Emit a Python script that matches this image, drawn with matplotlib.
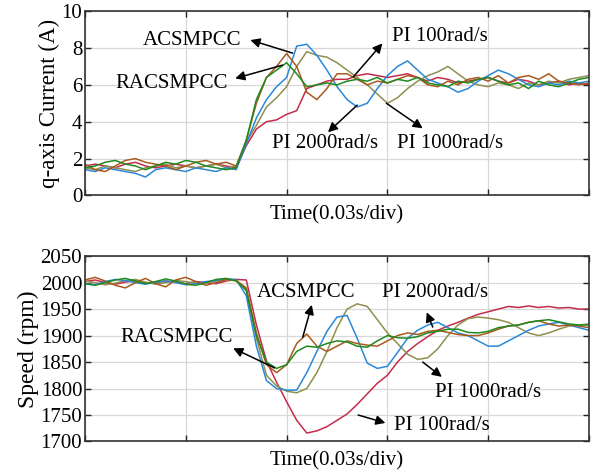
import matplotlib
matplotlib.use('Agg')
import matplotlib.pyplot as plt
import numpy as np

plt.rcParams['font.family'] = ['Liberation Serif', 'DejaVu Serif']

# time axis in divisions (0.03 s/div)
t = np.round(np.arange(0, 5.01, 0.1), 2)

# q-axis current (A)
iq_pi100 = [1.6, 1.7, 1.6, 1.5, 1.7, 1.8, 1.6, 1.5, 1.6, 1.7, 1.6, 1.5, 1.6, 1.7, 1.6, 1.5,
            2.7, 3.6, 4.0, 4.1, 4.4, 4.6, 5.8, 6.0, 6.2, 6.3, 6.3, 6.5, 6.6, 6.5, 6.4,
            6.5, 6.6, 6.4, 6.2, 6.4, 6.3, 6.1, 6.2, 6.3, 6.4, 6.2, 6.1, 6.3, 6.2, 6.0,
            6.1, 6.2, 6.0, 6.1, 6.0]
iq_pi1000 = [1.5, 1.4, 1.6, 1.5, 1.4, 1.3, 1.5, 1.6, 1.7, 1.5, 1.6, 1.5, 1.6, 1.7, 1.5, 1.6,
             2.9, 3.8, 4.8, 5.3, 5.9, 7.0, 7.8, 7.6, 7.5, 7.2, 6.8, 6.4, 6.0, 5.5, 5.0,
             5.3, 5.8, 6.2, 6.5, 6.7, 7.0, 6.6, 6.2, 6.0, 5.9, 6.1, 6.0, 5.8, 6.1, 6.0,
             6.2, 6.1, 6.3, 6.4, 6.5]
iq_pi2000 = [1.4, 1.3, 1.5, 1.4, 1.3, 1.2, 1.0, 1.4, 1.5, 1.4, 1.3, 1.5, 1.4, 1.3, 1.5, 1.4,
             2.8, 4.2, 5.2, 5.9, 6.4, 8.1, 8.2, 7.6, 6.8, 5.9, 5.2, 4.8, 5.0, 5.8, 6.5,
             7.0, 7.3, 6.8, 6.3, 6.1, 5.9, 5.6, 5.8, 6.2, 6.5, 6.8, 6.6, 6.3, 6.0, 5.9,
             6.1, 6.0, 6.2, 6.1, 6.2]
iq_acsmpcc = [1.7, 1.4, 1.3, 1.6, 1.9, 2.0, 1.8, 1.7, 1.6, 1.4, 1.6, 1.8, 1.9, 1.7, 1.8, 1.6,
              3.0, 5.0, 6.4, 7.0, 7.7, 7.0, 5.6, 5.2, 5.8, 6.6, 6.6, 6.3, 6.0, 6.2, 6.1,
              6.3, 6.5, 6.4, 6.0, 5.9, 6.2, 6.0, 6.3, 6.4, 6.2, 6.5, 6.1, 6.4, 6.5, 6.3,
              6.6, 6.2, 6.1, 6.0, 6.1]
iq_racsmpcc = [1.5, 1.6, 1.8, 1.9, 1.7, 1.6, 1.4, 1.6, 1.8, 1.7, 1.9, 1.8, 1.6, 1.5, 1.4, 1.5,
               3.0, 5.2, 6.4, 6.8, 7.2, 6.6, 5.9, 6.0, 6.1, 6.0, 6.2, 6.3, 6.2, 6.4, 6.1,
               6.3, 6.2, 6.4, 6.1, 6.0, 5.9, 6.2, 6.1, 6.3, 6.4, 6.2, 6.0, 6.1, 5.8, 6.2,
               6.0, 5.9, 6.1, 6.3, 6.4]

# speed (rpm)
n_pi100 = [2002, 2005, 2000, 1997, 2001, 2004, 1999, 2000, 2003, 2001, 1998, 2002, 2000, 1998, 2003, 2006,
           2005, 1920, 1852, 1812, 1775, 1740, 1716, 1720, 1728, 1740, 1752, 1770, 1790, 1810, 1825,
           1850, 1870, 1885, 1898, 1910, 1918, 1925, 1933, 1940, 1945, 1950, 1955, 1953, 1956, 1953,
           1955, 1952, 1953, 1950, 1950]
n_pi1000 = [2003, 2000, 1996, 1999, 2004, 2006, 2001, 1997, 2000, 2004, 2002, 1999, 2001, 2003, 2005, 2004,
            1988, 1895, 1825, 1805, 1795, 1792, 1800, 1830, 1870, 1915, 1950, 1960, 1955, 1930, 1905,
            1885, 1865, 1855, 1858, 1875, 1900, 1920, 1932, 1935, 1933, 1930, 1925, 1915, 1905, 1900,
            1905, 1912, 1918, 1920, 1922]
n_pi2000 = [1998, 1996, 2002, 2006, 2004, 2000, 1997, 2001, 2003, 2000, 1996, 1998, 2002, 2004, 2007, 2006,
            1975, 1880, 1815, 1800, 1797, 1797, 1830, 1870, 1908, 1935, 1938, 1895, 1848, 1838, 1842,
            1868, 1895, 1910, 1920, 1925, 1915, 1905, 1900, 1890, 1880, 1880, 1890, 1900, 1910, 1918,
            1922, 1925, 1920, 1915, 1910]
n_acsmpcc = [2005, 2010, 2003, 1995, 1990, 2000, 2008, 1998, 1992, 2005, 2010, 2002, 1995, 2000, 2006, 2004,
             1990, 1905, 1845, 1830, 1845, 1885, 1903, 1880, 1870, 1880, 1890, 1885, 1882, 1880, 1890,
             1900, 1905, 1902, 1908, 1910, 1906, 1902, 1900, 1900, 1905, 1912, 1918, 1920, 1925, 1928,
             1922, 1918, 1920, 1918, 1915]
n_racsmpcc = [1998, 1995, 2000, 2005, 2008, 2003, 1998, 2002, 2007, 2003, 1997, 1995, 2000, 2006, 2008, 2003,
              1985, 1900, 1850, 1838, 1845, 1870, 1880, 1878, 1885, 1890, 1888, 1880, 1878, 1890, 1900,
              1896, 1895, 1898, 1905, 1908, 1912, 1912, 1906, 1905, 1908, 1915, 1918, 1920, 1925, 1928,
              1930, 1926, 1922, 1920, 1920]

colors = {'pi100': '#c42c4a', 'pi1000': '#8f8f50', 'pi2000': '#2a88d8',
          'acsmpcc': '#a85a1e', 'racsmpcc': '#1f8a1f'}

fig = plt.figure(figsize=(6, 4.74), dpi=100)
ax1 = fig.add_axes([0.1417, 0.5876, 0.84, 0.389])
ax2 = fig.add_axes([0.1417, 0.0686, 0.84, 0.391])


def style(ax, ylim, yticks):
    ax.set_xlim(0, 5)
    ax.set_ylim(*ylim)
    ax.set_xticks([0, 1, 2, 3, 4, 5])
    ax.set_xticklabels([])
    ax.set_yticks(yticks)
    ax.grid(True, color='#d8d8d8', lw=0.9)
    ax.set_axisbelow(True)
    ax.tick_params(direction='in', length=4, width=1, top=True, right=True,
                   labelsize=15, pad=2, colors='#222222')
    ax.tick_params(labelcolor='black')
    for s in ax.spines.values():
        s.set_color('#333333')
        s.set_linewidth(1.2)
    ax.set_xlabel('Time(0.03s/div)', fontsize=15, labelpad=5)


lw = 1.1
ax1.plot(t, iq_pi100, color=colors['pi100'], lw=lw)
ax1.plot(t, iq_pi1000, color=colors['pi1000'], lw=lw)
ax1.plot(t, iq_pi2000, color=colors['pi2000'], lw=lw)
ax1.plot(t, iq_acsmpcc, color=colors['acsmpcc'], lw=lw)
ax1.plot(t, iq_racsmpcc, color=colors['racsmpcc'], lw=lw)
style(ax1, (0, 10), [0, 2, 4, 6, 8, 10])
ax1.set_ylabel('q-axis Current (A)', fontsize=16.5, labelpad=1)

ax2.plot(t, n_pi100, color=colors['pi100'], lw=lw)
ax2.plot(t, n_pi1000, color=colors['pi1000'], lw=lw)
ax2.plot(t, n_pi2000, color=colors['pi2000'], lw=lw)
ax2.plot(t, n_acsmpcc, color=colors['acsmpcc'], lw=lw)
ax2.plot(t, n_racsmpcc, color=colors['racsmpcc'], lw=lw)
style(ax2, (1700, 2050), [1700, 1750, 1800, 1850, 1900, 1950, 2000, 2050])
ax2.set_ylabel('Speed (rpm)', fontsize=17, labelpad=1)

arr = dict(arrowstyle='-|>', color='black', lw=1.1, mutation_scale=14, shrinkA=0, shrinkB=0)


def note(ax, text, xy_tail, xy_head, xy_text, ha='center'):
    ax.annotate('', xy=xy_head, xytext=xy_tail, arrowprops=arr)
    ax.text(xy_text[0], xy_text[1], text, fontsize=15, ha=ha, va='center')


note(ax1, 'ACSMPCC', (2.06, 7.72), (1.64, 8.43), (1.06, 8.43))
note(ax1, 'RACSMPCC', (1.96, 7.07), (1.49, 6.35), (0.86, 6.1))
note(ax1, 'PI 100rad/s', (2.66, 6.42), (2.95, 8.25), (3.52, 8.6))
note(ax1, 'PI 2000rad/s', (2.70, 4.9), (2.41, 3.43), (2.38, 2.83))
note(ax1, 'PI 1000rad/s', (2.99, 5.0), (3.35, 3.64), (3.62, 2.83))

note(ax2, 'ACSMPCC', (2.16, 1897), (2.25, 1958), (2.19, 1982))
note(ax2, 'RACSMPCC', (1.88, 1839), (1.47, 1876), (0.91, 1897))
note(ax2, 'PI 2000rad/s', (3.45, 1916), (3.39, 1944), (3.47, 1982))
note(ax2, 'PI 1000rad/s', (3.35, 1850), (3.54, 1822), (4.0, 1792))
note(ax2, 'PI 100rad/s', (2.71, 1750), (2.98, 1735), (3.54, 1731))

fig.savefig('out.png', dpi=100)
